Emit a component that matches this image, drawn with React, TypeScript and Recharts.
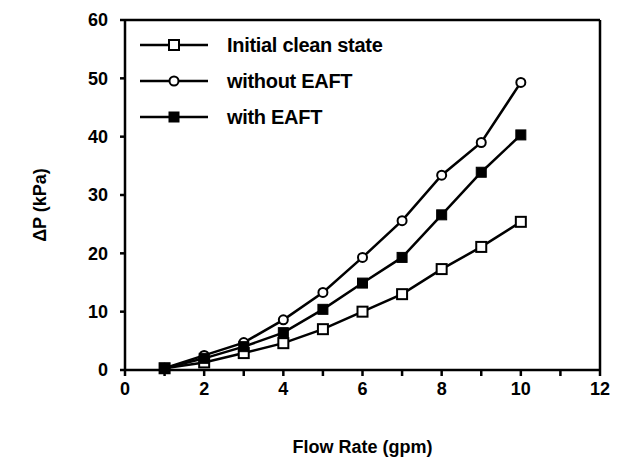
import { LineChart, Line, XAxis, YAxis, ReferenceLine } from 'recharts';

const FLOW = [1, 2, 3, 4, 5, 6, 7, 8, 9, 10];
const CLEAN = [0.3, 1.3, 2.9, 4.6, 7.0, 10.0, 13.0, 17.3, 21.1, 25.4];
const WITHOUT_EAFT = [0.3, 2.5, 4.7, 8.6, 13.3, 19.3, 25.6, 33.4, 39.0, 49.3];
const WITH_EAFT = [0.3, 2.0, 4.0, 6.4, 10.4, 14.9, 19.3, 26.6, 33.9, 40.3];
const X_TICKS = [0, 1, 2, 3, 4, 5, 6, 7, 8, 9, 10, 11, 12];
const Y_TICKS = [0, 10, 20, 30, 40, 50, 60];

const SERIES = [
  { key: 'clean', name: 'Initial clean state', marker: 'openSquare' },
  { key: 'without', name: 'without EAFT', marker: 'circle' },
  { key: 'with', name: 'with EAFT', marker: 'filledSquare' },
];

const data = FLOW.map((f, i) => ({
  flow: f,
  clean: CLEAN[i],
  without: WITHOUT_EAFT[i],
  with: WITH_EAFT[i],
}));

const FONT = '"Liberation Sans", Arial, sans-serif';

function Marker({ type, cx, cy }: { type: string; cx: number; cy: number }) {
  if (type === 'circle') {
    return <circle cx={cx} cy={cy} r={4.5} fill="#fff" stroke="#000" strokeWidth={2} />;
  }
  if (type === 'filledSquare') {
    return <rect x={cx - 5} y={cy - 5} width={10} height={10} fill="#000" stroke="#000" strokeWidth={1} />;
  }
  return <rect x={cx - 5} y={cy - 5} width={10} height={10} fill="#fff" stroke="#000" strokeWidth={2} />;
}

const renderDot = (type: string) => (props: any) => (
  <Marker key={`${type}-${props.index}`} type={type} cx={props.cx} cy={props.cy} />
);

// legend box sits inside the plot, top left
function LegendBox() {
  return (
    <div
      style={{
        position: 'absolute',
        left: 140,
        top: 27,
        fontFamily: FONT,
        fontWeight: 700,
        fontSize: 20,
        color: '#000',
      }}
    >
      {SERIES.map((s) => (
        <div key={s.key} style={{ display: 'flex', alignItems: 'center', height: 36 }}>
          <svg width={70} height={16} style={{ marginRight: 17 }}>
            <line x1={0} y1={8} x2={68} y2={8} stroke="#000" strokeWidth={2.5} />
            <Marker type={s.marker} cx={34} cy={8} />
          </svg>
          <span style={{ letterSpacing: -0.3 }}>{s.name}</span>
        </div>
      ))}
    </div>
  );
}

const yLabel = ({ viewBox }: any) => {
  const x = viewBox.x - 45;
  const y = viewBox.y + viewBox.height / 2 + 10;
  return (
    <text
      x={x}
      y={y}
      transform={`rotate(-90, ${x}, ${y})`}
      textAnchor="middle"
      dominantBaseline="central"
      fontFamily={FONT}
      fontWeight={700}
      fontSize={18}
      fill="#000"
    >
      ΔP (kPa)
    </text>
  );
};

export default function App() {
  const tickStyle = { fill: '#000', fontSize: 18, fontWeight: 700, fontFamily: FONT };
  return (
    <div style={{ position: 'absolute', left: 0, top: 0, width: 617, height: 464, background: '#fff' }}>
      <LineChart width={617} height={464} data={data} margin={{ top: 20, right: 17, bottom: 64, left: 85 }}>
        <XAxis
          type="number"
          dataKey="flow"
          domain={[0, 12]}
          ticks={X_TICKS}
          interval={0}
          tickFormatter={(v: number) => (v % 2 === 0 ? String(v) : '')}
          height={30}
          tickSize={6}
          tickMargin={6}
          tick={tickStyle}
          stroke="#000"
          strokeWidth={2.5}
          label={{
            value: 'Flow Rate (gpm)',
            position: 'bottom',
            offset: 40,
            style: { fill: '#000', fontSize: 18, fontWeight: 700, fontFamily: FONT },
          }}
        />
        <YAxis
          type="number"
          domain={[0, 60]}
          ticks={Y_TICKS}
          interval={0}
          width={40}
          tickSize={5}
          tickMargin={12}
          tick={tickStyle}
          stroke="#000"
          strokeWidth={2.5}
          label={{ content: yLabel }}
        />
        <ReferenceLine y={60} stroke="#000" strokeWidth={2.5} />
        <ReferenceLine x={12} stroke="#000" strokeWidth={2.5} />
        {SERIES.map((s) => (
          <Line
            key={s.key}
            type="linear"
            dataKey={s.key}
            name={s.name}
            stroke="#000"
            strokeWidth={2.5}
            dot={renderDot(s.marker)}
            activeDot={false}
            isAnimationActive={false}
          />
        ))}
      </LineChart>
      <LegendBox />
    </div>
  );
}
